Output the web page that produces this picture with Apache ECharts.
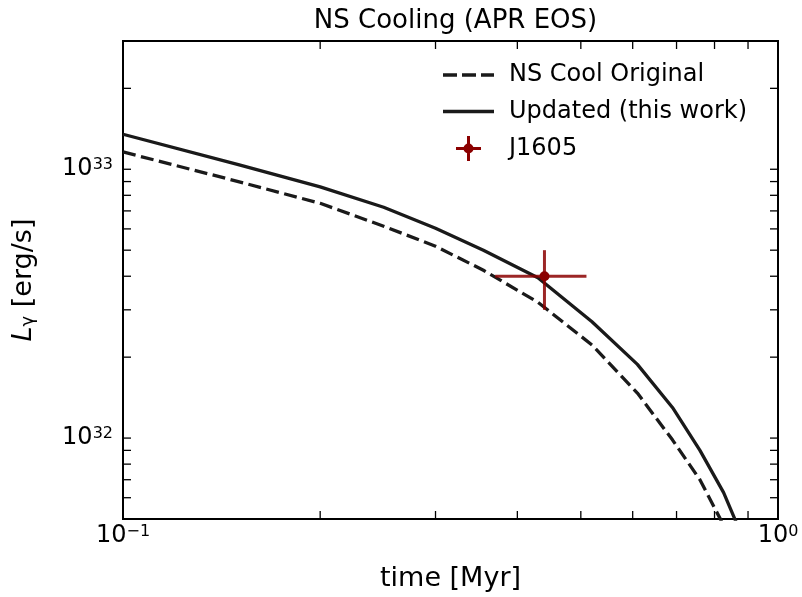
<!DOCTYPE html>
<html>
<head>
<meta charset="utf-8">
<script src="https://cdn.jsdelivr.net/npm/echarts@6/dist/echarts.min.js"></script>
<style>
  html, body { margin: 0; padding: 0; background: #fff; }
  #chart { width: 802px; height: 597px; }
</style>
</head>
<body>
<div id="chart"></div>
<script>
  // NS Cool original run (dashed)
  var timeOrig = [0.1, 0.15, 0.2, 0.25, 0.3, 0.355, 0.43, 0.52, 0.61, 0.69, 0.76, 0.8, 0.82];
  var lumOrig = [1.16e33, 9.0e32, 7.47e32, 6.14e32, 5.17e32, 4.21e32, 3.2e32, 2.22e32, 1.47e32, 9.85e31, 7.0e31, 5.5e31, 4.9e31];
  // updated run (solid)
  var timeNew = [0.1, 0.15, 0.2, 0.25, 0.3, 0.355, 0.43, 0.52, 0.61, 0.69, 0.76, 0.826, 0.875];
  var lumNew = [1.35e33, 1.04e33, 8.6e32, 7.22e32, 6.03e32, 5.0e32, 3.95e32, 2.71e32, 1.88e32, 1.30e32, 9.0e31, 6.27e31, 4.5e31];
  // J1605: [t, L, tLow, tHigh, LLow, LHigh]
  var j1605 = [[0.44, 4.0e32, 0.37, 0.51, 3.0e32, 5.0e32]];

  var xRange = [0.1, 1];
  var yRange = [5e31, 3e33];
  var xTicks = [0.2, 0.3, 0.4, 0.5, 0.6, 0.7, 0.8, 0.9];
  var yTicks = [6e31, 7e31, 8e31, 9e31, 1e32, 2e32, 3e32, 4e32, 5e32, 6e32, 7e32, 8e32, 9e32, 1e33, 2e33];

  var font = 'DejaVu Sans';
  var tickLen = 8;

  function powLabel(v) {
    var lg = Math.log10(v);
    var e = Math.round(lg);
    if (Math.abs(lg - e) > 1e-6) return '';
    return '{b|10}{s|' + (e < 0 ? '\u2212' + (-e) : e) + '}';
  }

  var labelRich = {
    b: { fontSize: 24, lineHeight: 24, fontFamily: font, color: '#000', verticalAlign: 'bottom', padding: [3, 0, 0, 0] },
    s: { fontSize: 16, lineHeight: 16, fontFamily: font, color: '#000', verticalAlign: 'top' }
  };

  function pairs(xs, ys) {
    return xs.map(function (x, i) { return [x, ys[i]]; });
  }

  var chart = echarts.init(document.getElementById('chart'));
  var option = {
    animation: false,
    title: {
      text: 'NS Cooling (APR EOS)',
      left: 450.5,
      textAlign: 'center',
      top: 3,
      textStyle: { fontFamily: font, fontSize: 26, fontWeight: 'normal', color: '#000' }
    },
    legend: {
      data: [
        { name: 'NS Cool Original', icon: 'path://M0,0H14V3.3H0Z M19,0H33V3.3H19Z M38,0H51V3.3H38Z' },
        { name: 'Updated (this work)', icon: 'path://M0,0H51V3.3H0Z' },
        { name: 'J1605', icon: 'path://M0,11H25V14H0Z M11,0H14V25H11Z M12.5,7.5A5,5 0 1,1 12.49,7.5Z' }
      ],
      orient: 'vertical',
      left: 438,
      top: 58,
      itemWidth: 51,
      itemHeight: 25,
      itemGap: 12.5,
      textStyle: { fontFamily: font, fontSize: 24, color: '#000', padding: [0, 0, 0, 10] }
    },
    grid: {
      left: 123, right: 24, top: 41, bottom: 78,
      outerBoundsMode: 'none',
      show: true, borderColor: '#000', borderWidth: 2, backgroundColor: 'transparent'
    },
    xAxis: {
      type: 'log', logBase: 10, min: xRange[0], max: xRange[1],
      name: 'time [Myr]', nameLocation: 'middle', nameGap: 46,
      nameTextStyle: { fontFamily: font, fontSize: 27, color: '#000' },
      axisLine: { show: false }, axisTick: { show: false }, splitLine: { show: false },
      axisLabel: { formatter: powLabel, rich: labelRich, margin: 5, showMinLabel: true, showMaxLabel: true }
    },
    yAxis: {
      type: 'log', logBase: 10, min: yRange[0], max: yRange[1],
      name: '{i|L}{g|\u03b3}{t| [erg/s]}', nameLocation: 'middle', nameGap: 86, nameRotate: 90,
      nameTextStyle: {
        rich: {
          i: { fontFamily: font, fontSize: 27, fontStyle: 'italic', color: '#000', lineHeight: 27, verticalAlign: 'top' },
          g: { fontFamily: font, fontSize: 18, color: '#000', lineHeight: 18, verticalAlign: 'bottom', padding: [15, 0, 0, 0] },
          t: { fontFamily: font, fontSize: 27, color: '#000', lineHeight: 27, verticalAlign: 'top' }
        }
      },
      axisLine: { show: false }, axisTick: { show: false }, splitLine: { show: false },
      axisLabel: { formatter: powLabel, rich: labelRich, margin: 10, interval: 0 }
    },
    series: [
      {
        name: 'NS Cool Original', type: 'line', data: pairs(timeOrig, lumOrig),
        showSymbol: false, symbol: 'none', clip: true,
        itemStyle: { color: '#1a1a1a' },
        lineStyle: { color: '#1a1a1a', width: 3.3, type: [13, 5.5] }
      },
      {
        name: 'Updated (this work)', type: 'line', data: pairs(timeNew, lumNew),
        showSymbol: false, symbol: 'none', clip: true,
        itemStyle: { color: '#1a1a1a' },
        lineStyle: { color: '#1a1a1a', width: 3.3 }
      },
      {
        name: 'J1605', type: 'custom', data: j1605, z: 5,
        itemStyle: { color: '#8b0000' },
        renderItem: function (params, api) {
          var c = api.coord([api.value(0), api.value(1)]);
          var l = api.coord([api.value(2), api.value(1)]);
          var r = api.coord([api.value(3), api.value(1)]);
          var b = api.coord([api.value(0), api.value(4)]);
          var t = api.coord([api.value(0), api.value(5)]);
          var bar = { stroke: 'rgba(139,0,0,0.85)', lineWidth: 3 };
          return {
            type: 'group',
            children: [
              { type: 'line', shape: { x1: l[0], y1: l[1], x2: r[0], y2: r[1] }, style: bar },
              { type: 'line', shape: { x1: b[0], y1: b[1], x2: t[0], y2: t[1] }, style: bar },
              { type: 'circle', shape: { cx: c[0], cy: c[1], r: 5 }, style: { fill: '#8b0000' } }
            ]
          };
        }
      },
      {
        name: 'xticks', type: 'custom', silent: true, z: 6,
        data: xTicks.map(function (v) { return [v, 1e32]; }),
        renderItem: function (params, api) {
          var cs = params.coordSys;
          var p = api.coord([api.value(0), api.value(1)]);
          var st = { stroke: '#000', lineWidth: 1.3 };
          return {
            type: 'group',
            children: [
              { type: 'line', shape: { x1: p[0], y1: cs.y + cs.height, x2: p[0], y2: cs.y + cs.height - tickLen }, style: st },
              { type: 'line', shape: { x1: p[0], y1: cs.y, x2: p[0], y2: cs.y + tickLen }, style: st }
            ]
          };
        }
      },
      {
        name: 'yticks', type: 'custom', silent: true, z: 6,
        data: yTicks.map(function (v) { return [0.2, v]; }),
        renderItem: function (params, api) {
          var cs = params.coordSys;
          var p = api.coord([api.value(0), api.value(1)]);
          var st = { stroke: '#000', lineWidth: 1.3 };
          return {
            type: 'group',
            children: [
              { type: 'line', shape: { x1: cs.x, y1: p[1], x2: cs.x + tickLen, y2: p[1] }, style: st },
              { type: 'line', shape: { x1: cs.x + cs.width, y1: p[1], x2: cs.x + cs.width - tickLen, y2: p[1] }, style: st }
            ]
          };
        }
      }
    ]
  };
  chart.setOption(option);
</script>
</body>
</html>
